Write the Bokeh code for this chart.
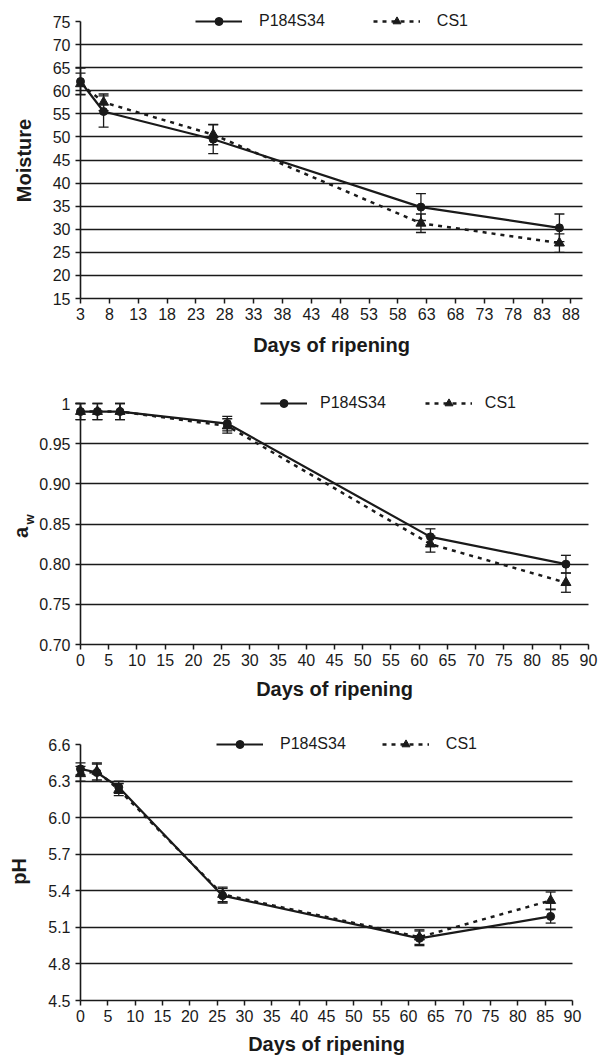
import math
from bokeh.plotting import figure
from bokeh.models import (ColumnDataSource, Whisker, TeeHead, Legend, LegendItem,
                          Label, FixedTicker, Range1d)
from bokeh.layouts import column
from bokeh.embed import file_html
from bokeh.resources import INLINE

FONT = "Liberation Sans"
INK = "#1a1a1a"

# ---------------- data ----------------
series_names = ["P184S34", "CS1"]

moist_days = [3, 7, 26, 62, 86]
moist_p = [62.0, 55.5, 49.5, 34.8, 30.3]
moist_p_err = [2.9, 3.4, 3.1, 2.9, 3.0]
moist_c = [61.5, 57.5, 50.5, 31.3, 27.0]
moist_c_err = [2.3, 1.8, 2.2, 2.0, 2.0]
moist_xticks = [3, 8, 13, 18, 23, 28, 33, 38, 43, 48, 53, 58, 63, 68, 73, 78, 83, 88]
moist_yticks = [15, 20, 25, 30, 35, 40, 45, 50, 55, 60, 65, 70, 75]
moist_ylabels = ["15", "20", "25", "30", "35", "40", "45", "50", "55", "60", "65", "70", "75"]

days = [0, 3, 7, 26, 62, 86]
aw_p = [0.990, 0.990, 0.990, 0.975, 0.834, 0.800]
aw_p_err = [0.010, 0.010, 0.010, 0.009, 0.010, 0.011]
aw_c = [0.990, 0.990, 0.990, 0.972, 0.825, 0.777]
aw_c_err = [0.010, 0.010, 0.010, 0.009, 0.010, 0.012]
aw_yticks = [0.70, 0.75, 0.80, 0.85, 0.90, 0.95, 1.0]
aw_ylabels = ["0.70", "0.75", "0.80", "0.85", "0.90", "0.95", "1"]

ph_p = [6.40, 6.37, 6.25, 5.36, 5.01, 5.19]
ph_p_err = [0.05, 0.07, 0.05, 0.06, 0.06, 0.055]
ph_c = [6.36, 6.38, 6.23, 5.37, 5.02, 5.32]
ph_c_err = [0.06, 0.07, 0.05, 0.06, 0.06, 0.07]
ph_yticks = [4.5, 4.8, 5.1, 5.4, 5.7, 6.0, 6.3, 6.6]
ph_ylabels = ["4.5", "4.8", "5.1", "5.4", "5.7", "6.0", "6.3", "6.6"]

day_xticks = [0, 5, 10, 15, 20, 25, 30, 35, 40, 45, 50, 55, 60, 65, 70, 75, 80, 85, 90]
xtitle = "Days of ripening"

W = 608


def x_range_for(v_a, px_a, v_b, px_b):
    s = (px_b - px_a) / (v_b - v_a)
    return Range1d(v_a - px_a / s, v_a + (W - px_a) / s)


def y_range_for(v_top, px_top, v_bot, px_bot, H):
    s = (px_bot - px_top) / (v_top - v_bot)
    return Range1d(v_bot - (H - px_bot) / s, v_top + px_top / s)


def whisker(x, v, e):
    src = ColumnDataSource(dict(x=x, upper=[a + b for a, b in zip(v, e)],
                                lower=[a - b for a, b in zip(v, e)]))
    return Whisker(base="x", upper="upper", lower="lower", source=src,
                   dimension="height", line_color=INK, line_width=1.3,
                   upper_head=TeeHead(size=10, line_color=INK, line_width=1.3),
                   lower_head=TeeHead(size=10, line_color=INK, line_width=1.3))


def panel(H, x0, x1, px_x0, px_x1, xticks, y0, y1, px_y1, px_y0, yticks, ylabels,
          x, p_vals, p_err, c_vals, c_err, leg, leg_y):
    p = figure(width=W, height=H,
               x_range=x_range_for(x0, px_x0, x1, px_x1),
               y_range=y_range_for(y1, px_y1, y0, px_y0, H),
               output_backend="svg", toolbar_location=None,
               min_border_left=0, min_border_right=0, min_border_top=0,
               min_border_bottom=0)
    p.outline_line_color = None
    p.background_fill_color = "white"
    p.border_fill_color = "white"

    xa = p.xaxis[0]
    xa.fixed_location = y0
    xa.bounds = (x0, x1)
    xa.ticker = FixedTicker(ticks=xticks)
    xa.major_tick_out = 5
    xa.major_tick_in = 0
    xa.minor_tick_line_color = None
    xa.axis_line_color = INK
    xa.axis_line_width = 1.6
    xa.major_tick_line_color = INK
    xa.major_tick_line_width = 1.5
    xa.major_label_standoff = 4
    xa.major_label_text_font = FONT
    xa.major_label_text_font_size = "16px"
    xa.major_label_text_color = INK

    ya = p.yaxis[0]
    ya.fixed_location = x0
    ya.bounds = (y0, y1)
    ya.ticker = FixedTicker(ticks=yticks)
    ya.major_label_overrides = {t: s for t, s in zip(yticks, ylabels)}
    ya.axis_line_color = INK
    ya.axis_line_width = 1.6
    ya.major_tick_in = 0
    ya.major_tick_out = 5
    ya.minor_tick_line_color = None
    ya.major_tick_line_color = INK
    ya.major_tick_line_width = 1.5
    ya.major_label_standoff = 5
    ya.major_label_text_font = FONT
    ya.major_label_text_font_size = "16px"
    ya.major_label_text_color = INK

    p.xgrid.visible = False
    grid_ticks = yticks[1:-1]
    g = p.ygrid[0]
    if "cross_bounds" in g.properties():
        g.ticker = FixedTicker(ticks=grid_ticks)
        g.cross_bounds = (x0, x1)
        g.grid_line_color = INK
        g.grid_line_width = 1.6
    else:
        g.visible = False
        p.segment(x0=[x0] * len(grid_ticks), x1=[x1] * len(grid_ticks),
                  y0=grid_ticks, y1=grid_ticks, line_color=INK, line_width=1.6)

    p.add_layout(whisker(x, p_vals, p_err))
    p.add_layout(whisker(x, c_vals, c_err))

    lp = p.line(x, p_vals, line_color=INK, line_width=2.2)
    sp = p.scatter(x, p_vals, marker="circle", size=8, color=INK)
    lc = p.line(x, c_vals, line_color=INK, line_width=2.5, line_dash="4 5")
    sc = p.scatter(x, c_vals, marker="triangle", size=10, color=INK)

    lx, standoff, spacing = leg
    legend = Legend(items=[LegendItem(label=series_names[0], renderers=[lp, sp]),
                           LegendItem(label=series_names[1], renderers=[lc, sc])],
                    location=(lx, H - leg_y - 10), orientation="horizontal",
                    glyph_width=47, glyph_height=20, label_height=20,
                    label_standoff=standoff, spacing=spacing, padding=0, margin=0,
                    border_line_color=None, background_fill_alpha=0,
                    label_text_font=FONT, label_text_font_size="16px",
                    label_text_color=INK)
    p.add_layout(legend)
    return p


def title_label(p, text, x, y, angle=0.0, size="20px", align="center", baseline="middle"):
    # x from the figure's left edge, y from its top edge (pixels)
    p.add_layout(Label(x=x, y=p.height - y, x_units="screen", y_units="screen", text=text,
                       angle=angle, text_align=align, text_baseline=baseline,
                       text_font=FONT, text_font_style="bold", text_font_size=size,
                       text_color=INK))


# Panel 1: moisture
p1 = panel(362, 3, 90, 80, 582, moist_xticks, 15, 75, 21, 298, moist_yticks, moist_ylabels,
           moist_days, moist_p, moist_p_err, moist_c, moist_c_err, (195, 17, 48), 21)
title_label(p1, "Moisture", 23, 160, angle=math.pi / 2)
title_label(p1, xtitle, 331, 344)

# Panel 2: water activity (figure starts at y=362)
p2 = panel(340, 0, 90, 80, 588, day_xticks, 0.70, 1.0, 41, 282, aw_yticks, aw_ylabels,
           days, aw_p, aw_p_err, aw_c, aw_c_err, (260, 13, 39), 41)
title_label(p2, "a", 20, 170, angle=math.pi / 2)
title_label(p2, "w", 29, 157, angle=math.pi / 2, size="13px")
title_label(p2, xtitle, 334, 326)

# Panel 3: pH (figure starts at y=702)
p3 = panel(353, 0, 90, 80, 572, day_xticks, 4.5, 6.6, 42, 298, ph_yticks, ph_ylabels,
           days, ph_p, ph_p_err, ph_c, ph_c_err, (216, 17, 36), 42)
title_label(p3, "pH", 18, 169, angle=math.pi / 2)
title_label(p3, xtitle, 326, 341)

layout = column(p1, p2, p3, spacing=0)
open("out.html", "w").write(file_html(layout, INLINE))
